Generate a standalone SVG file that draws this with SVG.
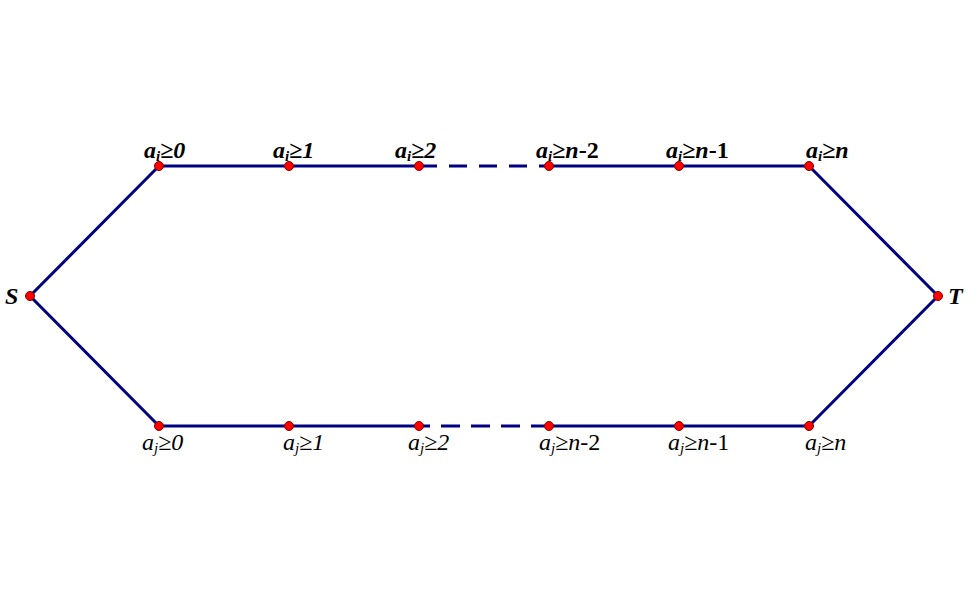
<svg xmlns="http://www.w3.org/2000/svg" width="980" height="614" viewBox="0 0 980 614">
<style>
.e{stroke:#000080;stroke-width:3;fill:none;stroke-linecap:butt}
.d{fill:#ff0000;stroke:#800000;stroke-width:1}
.t{font-family:"Liberation Serif","Times New Roman",serif;font-size:24px;font-style:italic;font-weight:bold;fill:#000}
.b{font-family:"Liberation Serif","Times New Roman",serif;font-size:24px;font-style:italic;fill:#000}
.s{font-size:15px}
.u{font-style:normal}
</style>
<rect width="980" height="614" fill="#fff"/>
<g id="connectors">
<polyline class="e" points="159,166 30,296 159,426"/>
<polyline class="e" points="809,166 938,296 809,426"/>
<line class="e" x1="159" y1="166" x2="419" y2="166"/>
<line class="e" x1="549" y1="166" x2="809" y2="166"/>
<line class="e" x1="159" y1="426" x2="419" y2="426"/>
<line class="e" x1="549" y1="426" x2="809" y2="426"/>
<line class="e" x1="419" y1="166" x2="549" y2="166" stroke-dasharray="18 12"/>
<line class="e" x1="419" y1="426" x2="549" y2="426" stroke-dasharray="19 11" stroke-dashoffset="8"/>
</g>
<g id="S"><circle class="d" cx="30" cy="296" r="4.5"/><text class="t" x="5" y="304">S</text></g>
<g id="T"><circle class="d" cx="938" cy="296" r="4.5"/><text class="t" x="948" y="304">T</text></g>
<g id="top0"><circle class="d" cx="159" cy="166" r="4.5"/><text class="t" x="144" y="158">a<tspan class="s" dy="3">i</tspan><tspan dy="-3">≥0</tspan></text></g>
<g id="top1"><circle class="d" cx="289" cy="166" r="4.5"/><text class="t" x="273" y="158">a<tspan class="s" dy="3">i</tspan><tspan dy="-3">≥1</tspan></text></g>
<g id="top2"><circle class="d" cx="419" cy="166" r="4.5"/><text class="t" x="395" y="158">a<tspan class="s" dy="3">i</tspan><tspan dy="-3">≥2</tspan></text></g>
<g id="topn2"><circle class="d" cx="549" cy="166" r="4.5"/><text class="t" x="536" y="158">a<tspan class="s" dy="3">i</tspan><tspan dy="-3">≥n</tspan><tspan class="u">-2</tspan></text></g>
<g id="topn1"><circle class="d" cx="679" cy="166" r="4.5"/><text class="t" x="666" y="158">a<tspan class="s" dy="3">i</tspan><tspan dy="-3">≥n</tspan><tspan class="u">-1</tspan></text></g>
<g id="topn"><circle class="d" cx="809" cy="166" r="4.5"/><text class="t" x="806" y="158">a<tspan class="s" dy="3">i</tspan><tspan dy="-3">≥n</tspan></text></g>
<g id="bot0"><circle class="d" cx="159" cy="426" r="4.5"/><text class="b" x="142" y="450">a<tspan class="s" dy="3">j</tspan><tspan dy="-3">≥0</tspan></text></g>
<g id="bot1"><circle class="d" cx="289" cy="426" r="4.5"/><text class="b" x="283" y="450">a<tspan class="s" dy="3">j</tspan><tspan dy="-3">≥1</tspan></text></g>
<g id="bot2"><circle class="d" cx="419" cy="426" r="4.5"/><text class="b" x="408" y="450">a<tspan class="s" dy="3">j</tspan><tspan dy="-3">≥2</tspan></text></g>
<g id="botn2"><circle class="d" cx="549" cy="426" r="4.5"/><text class="b" x="539" y="450">a<tspan class="s" dy="3">j</tspan><tspan dy="-3">≥n</tspan><tspan class="u">-2</tspan></text></g>
<g id="botn1"><circle class="d" cx="679" cy="426" r="4.5"/><text class="b" x="668" y="450">a<tspan class="s" dy="3">j</tspan><tspan dy="-3">≥n</tspan><tspan class="u">-1</tspan></text></g>
<g id="botn"><circle class="d" cx="809" cy="426" r="4.5"/><text class="b" x="805" y="450">a<tspan class="s" dy="3">j</tspan><tspan dy="-3">≥n</tspan></text></g>
</svg>
